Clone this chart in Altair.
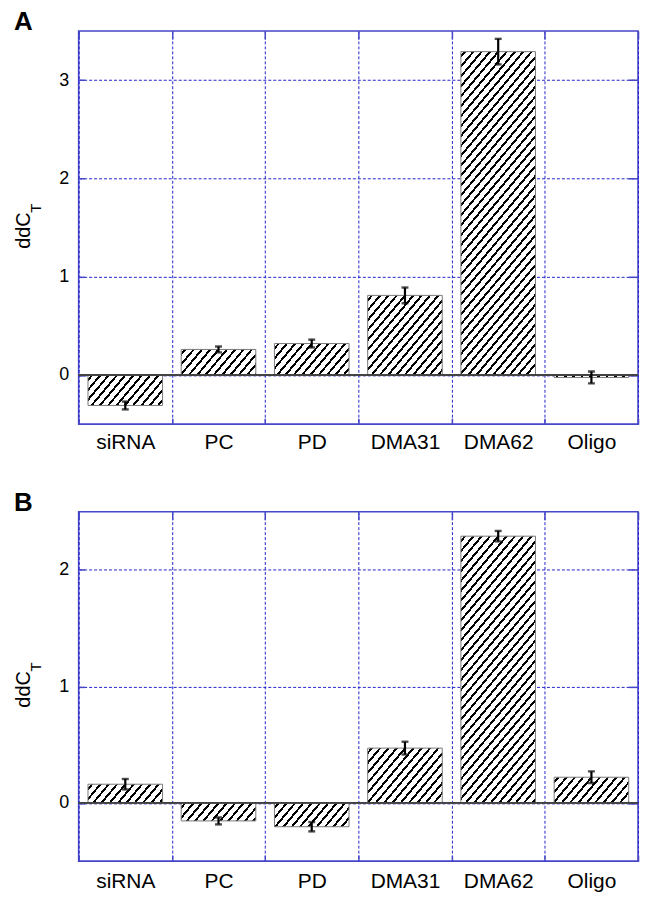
import math
import altair as alt
import pandas as pd

# ---------------- data ----------------
categories = ["siRNA", "PC", "PD", "DMA31", "DMA62", "Oligo"]
a_values = [-0.31, 0.26, 0.32, 0.81, 3.29, -0.025]
a_errors = [0.04, 0.03, 0.04, 0.08, 0.13, 0.06]
b_values = [0.16, -0.155, -0.205, 0.47, 2.29, 0.22]
b_errors = [0.045, 0.03, 0.04, 0.055, 0.045, 0.05]
a_domain = [-0.5, 3.5]
b_domain = [-0.5, 2.5]
a_ticks = [0, 1, 2, 3]
b_ticks = [0, 1, 2]

# ---------------- style ----------------
PLOT_W = 562
A_H = 395
B_H = 351
BAR_FRAC = 0.8
FONT = "Liberation Sans"
GRID_BLUE = "#2424cc"
FRAME_BLUE = "#4646c8"


def hatch_gradient(w, h, angle_deg=50, spacing=6.4, thick=2.0):
    """Diagonal hatch emulated by a hard-stop linear gradient in bbox units."""
    h = max(h, 0.5)
    a = math.radians(angle_deg)
    s, c = math.sin(a), math.cos(a)
    n_range = w * s + h * c
    k = n_range / (w * w * s * s + h * h * c * c)
    stops = [{"offset": 0, "color": "white"}]
    n = spacing / 2
    while n - thick / 2 < n_range:
        o1 = max(0.0, (n - thick / 2) / n_range)
        o2 = min(1.0, (n + thick / 2) / n_range)
        stops += [
            {"offset": o1, "color": "white"},
            {"offset": o1, "color": "black"},
            {"offset": o2, "color": "black"},
            {"offset": o2, "color": "white"},
        ]
        n += spacing
    stops.append({"offset": 1, "color": "white"})
    return {"gradient": "linear", "x1": 0, "y1": 0,
            "x2": k * w * s, "y2": k * h * c, "stops": stops}


def panel(values, errors, domain, ticks, H, letter, xpad):
    df = pd.DataFrame({"cat": categories, "val": values, "err": errors})
    xs = alt.Scale(domain=categories, paddingInner=0, paddingOuter=0)
    ys = alt.Scale(domain=domain, nice=False, zero=False)
    bar_w = BAR_FRAC * PLOT_W / len(categories)
    px_per_unit = H / (domain[1] - domain[0])

    cond = None
    for cat, v in zip(categories, values):
        g = alt.value(hatch_gradient(bar_w, abs(v) * px_per_unit))
        pred = alt.datum.cat == cat
        cond = alt.when(pred).then(g) if cond is None else cond.when(pred).then(g)
    fill = cond.otherwise(alt.value("white"))

    bars = alt.Chart(df).mark_bar(
        width=alt.RelativeBandSize(BAR_FRAC), stroke="#7a7a7a", strokeWidth=1
    ).encode(
        x=alt.X("cat:N", sort=categories, scale=xs,
                axis=alt.Axis(title=None, orient="bottom", labelAngle=0,
                              labelFont=FONT, labelFontSize=21, labelColor="black",
                              labelPadding=xpad, tickBand="extent", ticks=True,
                              tickSize=6, tickColor=FRAME_BLUE, tickWidth=1.5,
                              offset=-6, domain=False, grid=True,
                              gridColor=GRID_BLUE, gridDash=[3, 2], gridWidth=1,
                              gridOpacity=1)),
        y=alt.Y("val:Q", scale=ys,
                axis=alt.Axis(title=None, orient="left", values=ticks,
                              labelFont=FONT, labelFontSize=18, labelColor="black",
                              labelPadding=10, ticks=True, tickSize=6,
                              tickColor=FRAME_BLUE, tickWidth=1.5, offset=-6,
                              domain=False, grid=True, gridColor=GRID_BLUE,
                              gridDash=[3, 2], gridWidth=1, gridOpacity=1)),
        y2=alt.Y2(datum=0),
        fill=fill,
    )

    zero = alt.Chart(df).mark_rule(color="#444444", strokeWidth=1).encode(
        y=alt.YDatum(0, axis=None, scale=ys)
    )

    err_rule = alt.Chart(df).transform_calculate(
        lo="datum.val - datum.err", hi="datum.val + datum.err"
    ).mark_rule(color="black", strokeWidth=2.2).encode(
        x=alt.X("cat:N", sort=categories, scale=xs,
                axis=alt.Axis(title=None, orient="top", labels=False, ticks=True,
                              tickSize=8, tickColor=FRAME_BLUE, tickWidth=1.5,
                              offset=-8, tickBand="extent", domain=False, grid=False)),
        y=alt.Y("lo:Q", scale=ys,
                axis=alt.Axis(title=None, orient="right", values=ticks, labels=False,
                              ticks=True, tickSize=10, tickColor=FRAME_BLUE,
                              tickWidth=1.5, offset=-10, domain=False, grid=False)),
        y2="hi:Q",
    )

    caps = []
    for fld in ["lo", "hi"]:
        caps.append(
            alt.Chart(df).transform_calculate(
                lo="datum.val - datum.err", hi="datum.val + datum.err"
            ).mark_tick(color="black", size=7, thickness=2.4).encode(
                x=alt.X("cat:N", sort=categories, scale=xs, axis=None),
                y=alt.Y(f"{fld}:Q", scale=ys, axis=None),
            )
        )

    one = pd.DataFrame({"k": [0]})
    letter_txt = alt.Chart(one).mark_text(
        text=letter, font=FONT, fontSize=26, fontWeight="bold",
        align="left", baseline="alphabetic", color="black"
    ).encode(x=alt.value(-65), y=alt.value(-1))
    ytitle = alt.Chart(one).mark_text(
        text="ddC", font=FONT, fontSize=20, angle=270, align="center",
        baseline="alphabetic", color="black"
    ).encode(x=alt.value(-49), y=alt.value(H / 2 + 3))
    ysub = alt.Chart(one).mark_text(
        text="T", font=FONT, fontSize=15, angle=270, align="center",
        baseline="alphabetic", color="black"
    ).encode(x=alt.value(-38), y=alt.value(H / 2 - 19.5))

    return alt.layer(
        bars, zero, err_rule, *caps, letter_txt, ytitle, ysub
    ).resolve_axis(x="independent", y="independent").properties(
        width=PLOT_W, height=H
    )


pA = panel(a_values, a_errors, a_domain, a_ticks, A_H, "A", 7)
pB = panel(b_values, b_errors, b_domain, b_ticks, B_H, "B", 10)

chart = alt.vconcat(pA, pB, spacing=36).properties(
    padding={"left": 5, "top": -2, "right": 5, "bottom": 5},
    background="white",
).configure_view(
    stroke=FRAME_BLUE, strokeWidth=1.6
)

chart.save("out.html", embed_options={"renderer": "svg", "actions": False})
